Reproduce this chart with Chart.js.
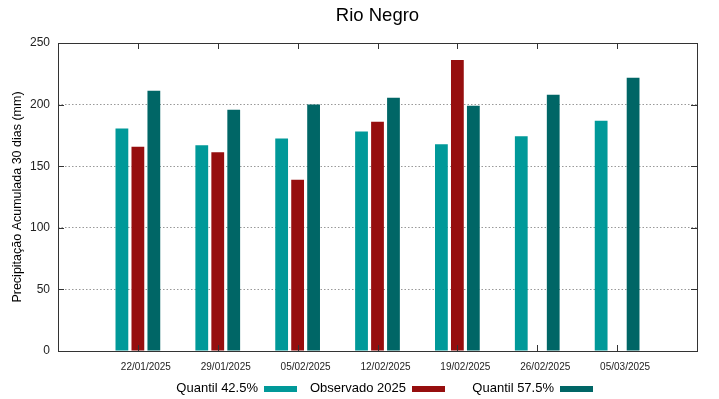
<!DOCTYPE html>
<html>
<head>
<meta charset="utf-8">
<script src="https://cdn.jsdelivr.net/npm/chart.js@4.4.1/dist/chart.umd.min.js"></script>
<style>
  html, body { margin: 0; padding: 0; background: #fff; }
  #box { width: 719px; height: 399px; position: relative; }
</style>
</head>
<body>
<div id="box"><canvas id="grafico"></canvas></div>
<script>
// datas (uma vazia em cada ponta para dar margem ao eixo, como no original)
const datas = ["", "22/01/2025", "29/01/2025", "05/02/2025", "12/02/2025",
               "19/02/2025", "26/02/2025", "05/03/2025", ""];
const quantil425 = [null, 180.6, 167.0, 172.5, 178.1, 167.8, 174.3, 186.8, null];
const observado2025 = [null, 165.7, 161.3, 139.1, 186.0, 236.2, null, null, null];
const quantil575 = [null, 211.2, 195.8, 200.1, 205.5, 199.0, 208.0, 221.8, null];
const yTicks = [0, 50, 100, 150, 200, 250];

const fonte = "'Liberation Sans', Arial, sans-serif";

// moldura e marcas para dentro, como no gnuplot
const moldura = {
    id: "moldura",
    afterDraw(chart) {
        const { ctx, chartArea: a, scales } = chart;
        ctx.save();
        ctx.strokeStyle = "#333";
        ctx.lineWidth = 1;
        ctx.beginPath();
        scales.x.ticks.forEach((t, i) => {
            if (!datas[i]) return;
            const x = Math.round(scales.x.getPixelForTick(i)) + 0.5;
            ctx.moveTo(x, a.bottom); ctx.lineTo(x, a.bottom - 6);
            ctx.moveTo(x, a.top); ctx.lineTo(x, a.top + 6);
        });
        yTicks.forEach(v => {
            const y = Math.round(scales.y.getPixelForValue(v)) + 0.5;
            ctx.moveTo(a.left, y); ctx.lineTo(a.left + 6, y);
            ctx.moveTo(a.right, y); ctx.lineTo(a.right - 6, y);
        });
        ctx.stroke();
        ctx.strokeRect(Math.round(a.left) + 0.5, Math.round(a.top) + 0.5,
                       Math.round(a.right - a.left), Math.round(a.bottom - a.top));
        ctx.restore();
    }
};

// legenda no estilo gnuplot: texto alinhado à direita e a amostra depois
const legenda = {
    id: "legenda",
    afterDraw(chart) {
        const { ctx, chartArea: a } = chart;
        ctx.save();
        ctx.font = "13px " + fonte;
        ctx.textAlign = "right";
        ctx.textBaseline = "middle";
        chart.data.datasets.forEach((ds, i) => {
            const fim = a.left + 239 + 148 * i;
            ctx.fillStyle = ds.backgroundColor;
            ctx.fillRect(fim - 33, 386, 33, 6);
            ctx.fillStyle = "#000";
            ctx.fillText(ds.label, fim - 39, 388.5);
        });
        ctx.restore();
    }
};

const ctx = document.getElementById("grafico").getContext("2d");

new Chart(ctx, {
    type: "bar",
    data: {
        labels: datas,
        datasets: [
            { label: "Quantil 42.5%", data: quantil425, backgroundColor: "#009999" },
            { label: "Observado 2025", data: observado2025, backgroundColor: "#960e0e" },
            { label: "Quantil 57.5%", data: quantil575, backgroundColor: "#006666" }
        ]
    },
    options: {
        responsive: true,
        maintainAspectRatio: false,
        animation: false,
        categoryPercentage: 0.6,
        barPercentage: 0.8,
        layout: { padding: { left: 0, right: 22, top: 0, bottom: 22 } },
        plugins: {
            title: {
                display: true,
                text: "Rio Negro",
                color: "#000",
                fullSize: false,
                font: { family: fonte, size: 18.5, weight: "normal" },
                padding: { top: 5, bottom: 15.8 }
            },
            legend: { display: false },
            tooltip: { enabled: false }
        },
        scales: {
            x: {
                offset: false,
                grid: { display: false, drawTicks: false },
                border: { display: false },
                ticks: {
                    autoSkip: false,
                    maxRotation: 0,
                    color: "#222",
                    padding: 10,
                    labelOffset: 8,
                    font: { family: fonte, size: 10 }
                },
                afterFit(scale) { scale.height = 26; }
            },
            y: {
                min: 0,
                max: 250,
                afterBuildTicks(scale) { scale.ticks = yTicks.map(v => ({ value: v })); },
                grid: {
                    color: "#999",
                    borderDash: [1.5, 2],
                    drawTicks: false
                },
                border: { display: false, dash: [1.5, 2] },
                ticks: {
                    color: "#222",
                    padding: 8,
                    font: { family: fonte, size: 12 }
                },
                title: {
                    display: true,
                    text: "Precipitação Acumulada 30 dias (mm)",
                    color: "#000",
                    padding: { top: 10, bottom: 0 },
                    font: { family: fonte, size: 12.5 }
                },
                afterFit(scale) { scale.width = 58; }
            }
        }
    },
    plugins: [moldura, legenda]
});
</script>
</body>
</html>
